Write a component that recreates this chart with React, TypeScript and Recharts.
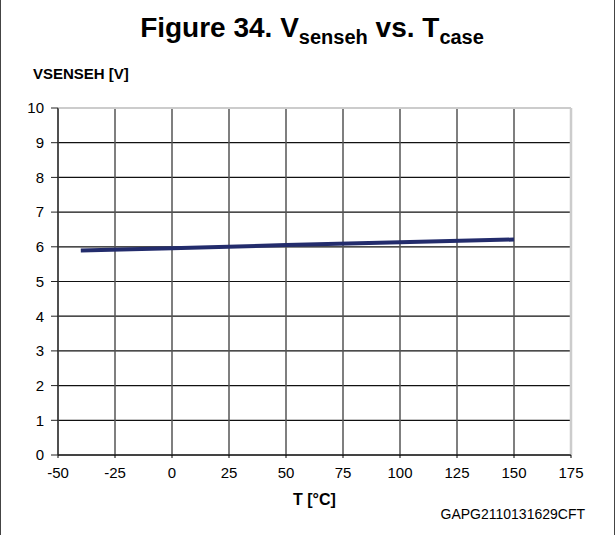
import {
  CartesianGrid,
  Line,
  LineChart,
  ReferenceLine,
  XAxis,
  YAxis,
} from 'recharts';

const temps = [-40, 0, 50, 100, 150];
const vsenseh = [5.89, 5.96, 6.05, 6.13, 6.21];
const xTicks = [-50, -25, 0, 25, 50, 75, 100, 125, 150, 175];
const yTicks = [0, 1, 2, 3, 4, 5, 6, 7, 8, 9, 10];

const data = temps.map((t, i) => ({ t, v: vsenseh[i] }));

const font = 'Arial, "Liberation Sans", sans-serif';

export default function App() {
  return (
    <div
      style={{
        position: 'absolute',
        left: 0,
        top: 0,
        width: 615,
        height: 535,
        background: '#fff',
        fontFamily: font,
        color: '#000',
        boxSizing: 'border-box',
        borderLeft: '1.5px solid #444',
        borderRight: '1.5px solid #444',
      }}
    >
      <div
        style={{
          position: 'absolute',
          top: 12,
          left: 0,
          width: 622,
          textAlign: 'center',
          fontSize: 28,
          fontWeight: 'bold',
          lineHeight: '32px',
        }}
      >
        Figure 34. V<sub style={{ fontSize: 20 }}>senseh</sub> vs. T
        <sub style={{ fontSize: 20 }}>case</sub>
      </div>
      <div
        style={{ position: 'absolute', top: 65, left: 32, fontSize: 15, fontWeight: 'bold' }}
      >
        VSENSEH [V]
      </div>
      <div
        style={{
          position: 'absolute',
          top: 491,
          left: 292,
          fontSize: 16,
          fontWeight: 'bold',
        }}
      >
        T [°C]
      </div>
      <div style={{ position: 'absolute', top: 506, right: 29, fontSize: 14 }}>
        GAPG2110131629CFT
      </div>
      <LineChart
        width={615}
        height={535}
        data={data}
        margin={{ top: 108, right: 45, left: 0, bottom: 0 }}
      >
        <CartesianGrid horizontal={true} vertical={false} stroke="#111" strokeWidth={1.2} />
        <CartesianGrid horizontal={false} vertical={true} stroke="#555" strokeWidth={1.5} />
        <ReferenceLine y={10} stroke="#ccc" strokeWidth={2} />
        <ReferenceLine x={175} stroke="#ccc" strokeWidth={2.5} />
        <XAxis
          dataKey="t"
          type="number"
          domain={[-50, 175]}
          ticks={xTicks}
          interval={0}
          height={80}
          stroke="#000"
          tickSize={3}
          tickMargin={9}
          tick={{ fill: '#000', fontSize: 15, fontFamily: font }}
        />
        <YAxis
          type="number"
          domain={[0, 10]}
          ticks={yTicks}
          interval={0}
          width={57}
          stroke="#222"
          tickSize={7}
          tickMargin={7}
          tick={{ fill: '#000', fontSize: 15, fontFamily: font }}
        />
        <Line
          type="linear"
          dataKey="v"
          stroke="#232c6c"
          strokeWidth={4}
          dot={false}
          isAnimationActive={false}
        />
      </LineChart>
    </div>
  );
}
